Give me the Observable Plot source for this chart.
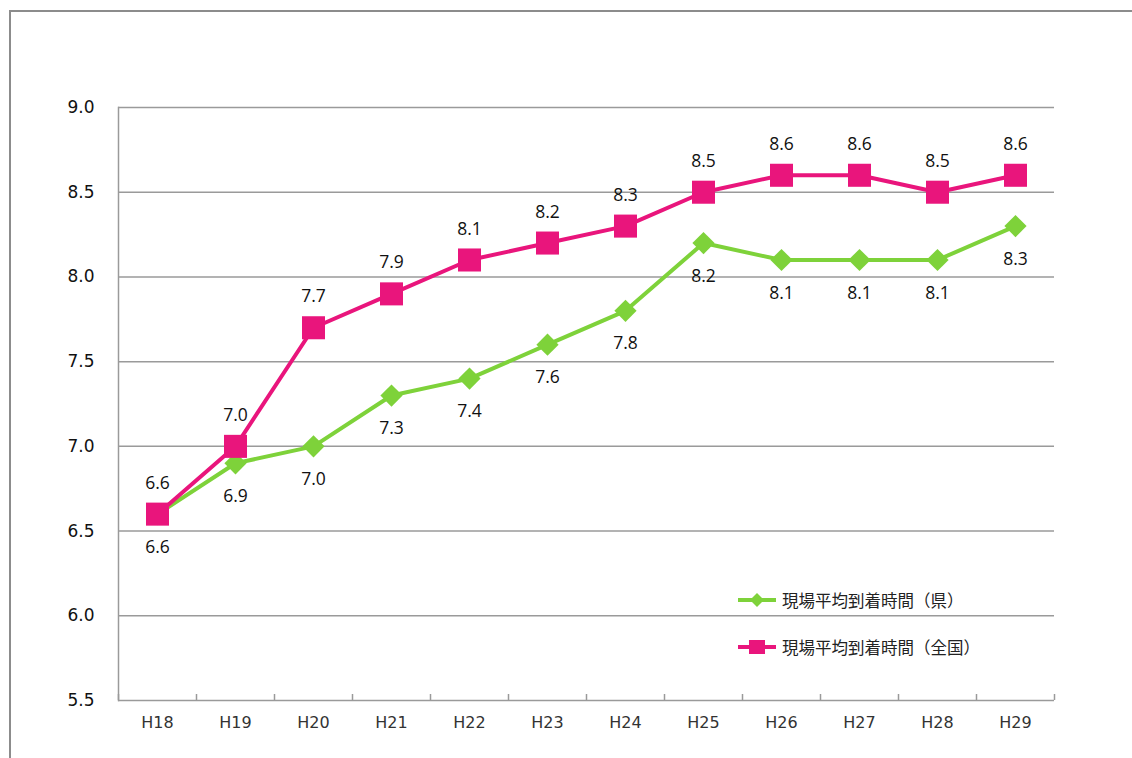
<!DOCTYPE html>
<html><head><meta charset="utf-8">
<script src="https://cdn.jsdelivr.net/npm/d3@7"></script>
<script src="https://cdn.jsdelivr.net/npm/@observablehq/plot@0.6"></script>
<style>
html,body{margin:0;padding:0;background:#fff;}
#wrap{position:relative;width:1132px;height:758px;overflow:hidden;}
#frame{position:absolute;left:9px;top:10px;width:1140px;height:760px;border-left:2px solid #8c8c8c;border-top:2px solid #8c8c8c;box-sizing:border-box;}
#chart{position:absolute;left:0;top:0;}
.leg{position:absolute;left:738px;font-family:"Noto Sans CJK JP";font-size:16.5px;color:#222;display:flex;align-items:center;}
.leg svg{margin-right:4px;}
</style></head>
<body><div id="wrap"><div id="frame"></div><div id="chart"></div>
<div class="leg" id="leg1" style="top:588px"></div>
<div class="leg" id="leg2" style="top:635px"></div>
</div>
<script>
const years = ["H18","H19","H20","H21","H22","H23","H24","H25","H26","H27","H28","H29"];
const kenValues = [6.6,6.9,7.0,7.3,7.4,7.6,7.8,8.2,8.1,8.1,8.1,8.3];
const zenkokuValues = [6.6,7.0,7.7,7.9,8.1,8.2,8.3,8.5,8.6,8.6,8.5,8.6];
const yTicks = [5.5,6.0,6.5,7.0,7.5,8.0,8.5,9.0];
const seriesNames = ["現場平均到着時間（県）","現場平均到着時間（全国）"];
const green = "#7ED23A", pink = "#E9157C";

const ken = years.map((y,i)=>({i, year:y, v:kenValues[i]}));
const zen = years.map((y,i)=>({i, year:y, v:zenkokuValues[i]}));
const boundaries = d3.range(-0.5, years.length, 1);

const chart = Plot.plot({
  width:1132, height:758,
  marginLeft:118, marginRight:78, marginTop:107, marginBottom:58,
  x:{type:"linear", domain:[-0.5, years.length-0.5], label:null},
  y:{domain:[5.5,9.0], label:null},
  style:{background:"transparent"},
  marks:[
    Plot.ruleY(yTicks, {stroke:"#9a9a9a", strokeWidth:1.5}),
    Plot.frame({anchor:"left", stroke:"#9a9a9a", strokeWidth:1.5}),
    Plot.axisX({ticks:boundaries, tickSize:-6, tickFormat:()=>"", label:null, stroke:"#9a9a9a", strokeWidth:1.5}),
    Plot.axisX({ticks:d3.range(years.length), tickSize:0, tickPadding:16, tickFormat:i=>years[i], label:null,
      fontFamily:"DejaVu Sans", fontSize:16, letterSpacing:"1.5px", fill:"#333"}),
    Plot.axisY({ticks:yTicks, tickSize:0, tickPadding:24, tickFormat:d3.format(".1f"), label:null,
      fontFamily:"DejaVu Sans", fontSize:17, fill:"#111"}),
    Plot.line(ken, {x:"i", y:"v", stroke:green, strokeWidth:4}),
    Plot.line(zen, {x:"i", y:"v", stroke:pink, strokeWidth:4}),
    Plot.dot(ken, {x:"i", y:"v", symbol:"diamond2", r:10, fill:green, stroke:"none"}),
    Plot.dot(zen, {x:"i", y:"v", symbol:"square", r:13, fill:pink, stroke:"none"}),
    Plot.text(ken, {x:"i", y:"v", text:d=>d.v.toFixed(1), dy:33, fontFamily:"Open Sans", fontSize:17.5, fill:"#111"}),
    Plot.text(zen, {x:"i", y:"v", text:d=>d.v.toFixed(1), dy:-31, fontFamily:"Open Sans", fontSize:17.5, fill:"#111"})
  ]
});
document.getElementById("chart").appendChild(chart);

function legendSymbol(color, shape){
  const s = d3.create("svg").attr("width",40).attr("height",20);
  s.append("line").attr("x1",0).attr("x2",38).attr("y1",10).attr("y2",10).attr("stroke",color).attr("stroke-width",4);
  if(shape==="diamond") s.append("path").attr("d","M19,3L26,10L19,17L12,10Z").attr("fill",color);
  else s.append("rect").attr("x",11).attr("y",3).attr("width",16).attr("height",14).attr("fill",color);
  return s.node();
}
const l1 = document.getElementById("leg1"), l2 = document.getElementById("leg2");
l1.appendChild(legendSymbol(green,"diamond")); l1.appendChild(document.createTextNode(seriesNames[0]));
l2.appendChild(legendSymbol(pink,"square")); l2.appendChild(document.createTextNode(seriesNames[1]));
</script></body></html>
